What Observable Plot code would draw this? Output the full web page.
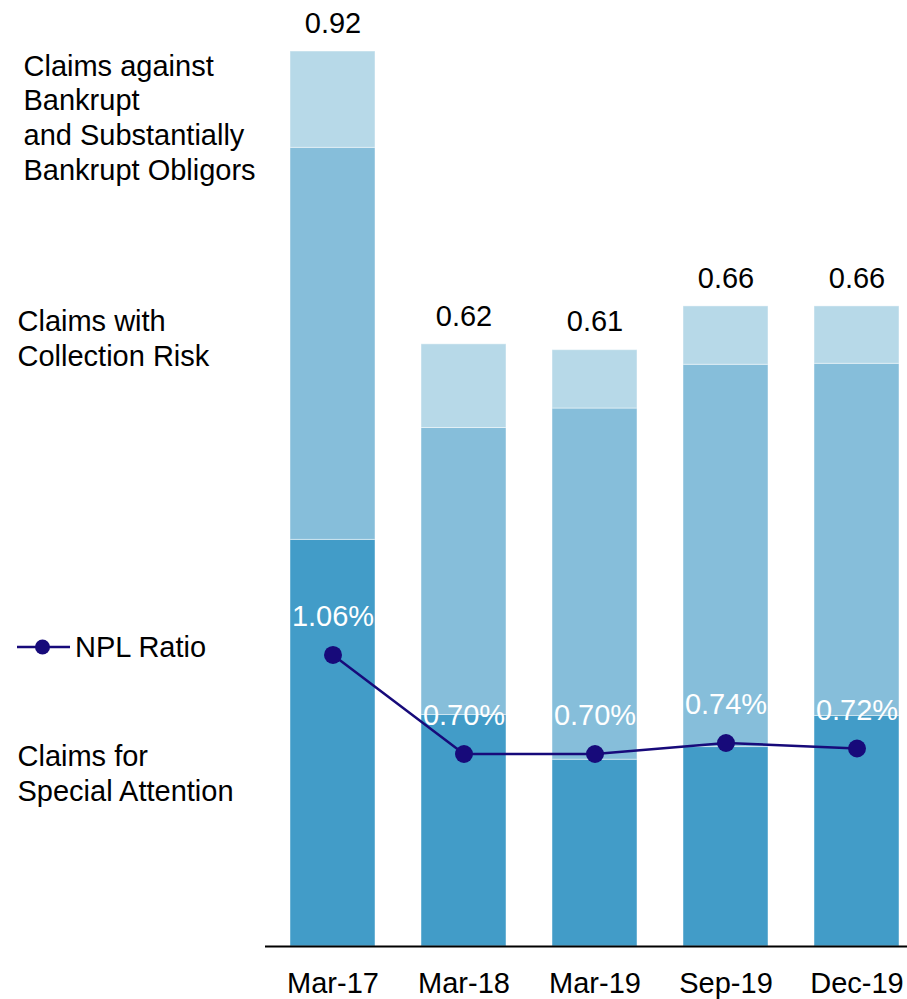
<!DOCTYPE html>
<html><head><meta charset="utf-8">
<script src="https://cdn.jsdelivr.net/npm/d3@7"></script>
<script src="https://cdn.jsdelivr.net/npm/@observablehq/plot@0.6"></script>
<style>
body{margin:0;background:#fff;font-family:Arial,"Liberation Sans",sans-serif;}
#wrap{position:relative;width:907px;height:999px;}
#legend{position:absolute;left:17px;top:631px;height:32px;display:flex;align-items:center;font-size:29px;color:#000;}
#legend span{margin-left:2px;}
</style></head><body>
<div id="wrap"><div id="legend"><svg width="56" height="20"><line x1="0" y1="10" x2="53" y2="10" stroke="#170a7a" stroke-width="2.5"/><circle cx="25.5" cy="10" r="7.5" fill="#170a7a"/></svg><span>NPL Ratio</span></div></div>
<script>
const periods = ["Mar-17", "Mar-18", "Mar-19", "Sep-19", "Dec-19"];
const specialAttention = [0.418, 0.238, 0.192, 0.205, 0.237];
const collectionRisk   = [0.403, 0.295, 0.361, 0.393, 0.362];
const bankruptClaims   = [0.099, 0.086, 0.060, 0.060, 0.059];
const totals = [0.92, 0.62, 0.61, 0.66, 0.66];
const nplRatio = [1.06, 0.70, 0.70, 0.74, 0.72];
const seriesNames = ["Claims for Special Attention", "Claims with Collection Risk", "Claims against Bankrupt and Substantially Bankrupt Obligors"];
const seriesColors = ["#429cc8", "#86beda", "#b7d9e8"];
const topLabel = ["Claims against\nBankrupt\nand Substantially\nBankrupt Obligors"];
const lowerLabels = ["Claims with\nCollection Risk", "Claims for\nSpecial Attention"];

const seriesValues = [specialAttention, collectionRisk, bankruptClaims];
const rows = [];
seriesNames.forEach((s, j) => periods.forEach((p, i) => rows.push({period: p, series: s, value: seriesValues[j][i]})));
const stackTop = periods.map((p, i) => specialAttention[i] + collectionRisk[i] + bankruptClaims[i]);
const totalRows = periods.map((p, i) => ({period: p, top: stackTop[i], label: totals[i].toFixed(2)}));
const ratioScale = 0.2827; // NPL % mapped onto the bar axis (secondary axis)
const nplRows = periods.map((p, i) => ({period: p, ratio: nplRatio[i], label: nplRatio[i].toFixed(2) + "%"}));
const navy = "#170a7a";
const fs = 29;

const chart = Plot.plot({
  width: 907,
  height: 999,
  marginLeft: 265,
  marginRight: 0,
  marginTop: 0,
  marginBottom: 53,
  style: {fontFamily: "Arial, 'Liberation Sans', sans-serif", fontSize: fs + "px", background: "white", color: "black", overflow: "visible"},
  x: {domain: periods, range: [288.5, 899.5], paddingInner: 0.3536, paddingOuter: 0, label: null},
  y: {domain: [0, 1], range: [946, -26.8], axis: null},
  color: {domain: seriesNames, range: seriesColors},
  marks: [
    Plot.barY(rows, {x: "period", y: "value", fill: "series", stroke: "white", strokeWidth: 1, strokeOpacity: 0.45}),
    Plot.ruleY([0], {stroke: "black", strokeWidth: 2}),
    Plot.axisX({tickSize: 0, tickPadding: 26, fontSize: fs, label: null}),
    Plot.text(totalRows, {x: "period", y: "top", text: "label", dy: -28, fontSize: fs, fill: "black"}),
    Plot.line(nplRows, {x: "period", y: d => d.ratio * ratioScale, stroke: navy, strokeWidth: 2.5}),
    Plot.dot(nplRows, {x: "period", y: d => d.ratio * ratioScale, r: 9, fill: navy, stroke: "none"}),
    Plot.text(nplRows, {x: "period", y: d => d.ratio * ratioScale, text: "label", dy: -38, fontSize: fs, fill: "white"}),
    Plot.text(topLabel, {frameAnchor: "left", y: [0.853], dx: -242, textAnchor: "start", lineAnchor: "middle", lineHeight: 1.2, fontSize: fs, fill: "black"}),
    Plot.text(lowerLabels, {frameAnchor: "left", y: [0.6265, 0.1793], dx: -248, textAnchor: "start", lineAnchor: "middle", lineHeight: 1.2, fontSize: fs, fill: "black"})
  ]
});
document.getElementById("wrap").prepend(chart);
chart.style.position = "absolute";
chart.style.left = "0";
chart.style.top = "0";
</script>
</body></html>
